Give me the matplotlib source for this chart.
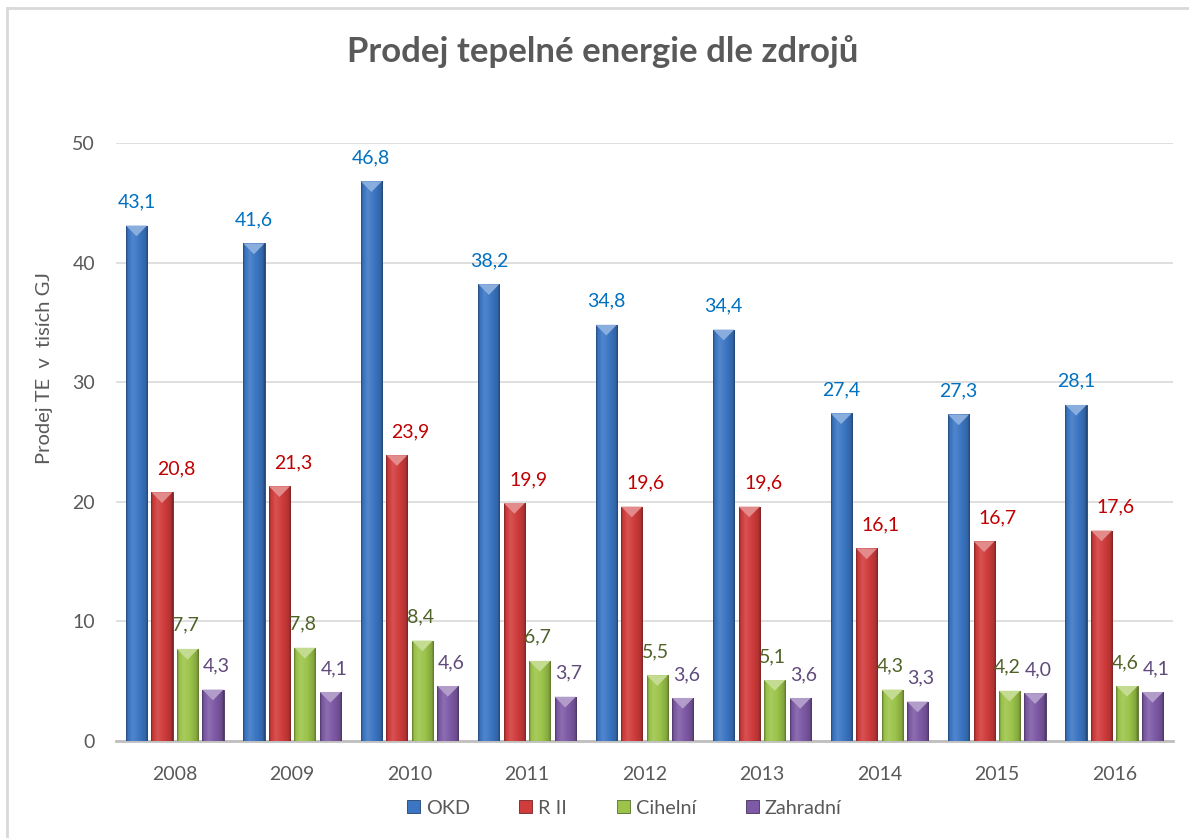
import numpy as np
import matplotlib
matplotlib.use("Agg")
import matplotlib.pyplot as plt
from matplotlib.lines import Line2D
from matplotlib.patches import Polygon, Patch
from matplotlib.colors import to_rgb

plt.rcParams['font.family'] = ['Lato', 'DejaVu Sans']

years = ['2008', '2009', '2010', '2011', '2012', '2013', '2014', '2015', '2016']
series_names = ['OKD', 'R II', 'Cihelní', 'Zahradní']
okd = [43.1, 41.6, 46.8, 38.2, 34.8, 34.4, 27.4, 27.3, 28.1]
r2 = [20.8, 21.3, 23.9, 19.9, 19.6, 19.6, 16.1, 16.7, 17.6]
cihelni = [7.7, 7.8, 8.4, 6.7, 5.5, 5.1, 4.3, 4.2, 4.6]
zahradni = [4.3, 4.1, 4.6, 3.7, 3.6, 3.6, 3.3, 4.0, 4.1]

bar_colors = ['#3B76C4', '#D03C3C', '#9CC44A', '#7E5AA6']
label_colors = ['#0070C0', '#C00000', '#4F6228', '#604A7B']
label_dx = [0, 10, -1.5, 2.5]  # points

W, H = 1189, 838
fig = plt.figure(figsize=(W / 100, H / 100), dpi=100)
ax = fig.add_axes([116 / W, (H - 741) / H, (1173 - 116) / W, (741 - 143) / H])

x = np.arange(len(years))
step = 0.217
width = 0.18
data = [okd, r2, cihelni, zahradni]


def shade(c, f):
    r, g, b = to_rgb(c)
    if f < 1:
        return (r * f, g * f, b * f)
    return tuple(min(1, v + (1 - v) * (f - 1)) for v in (r, g, b))


for i, vals in enumerate(data):
    base = bar_colors[i]
    bars = ax.bar(x + (i - 1.5) * step, vals, width, color=base,
                  edgecolor=shade(base, 0.55), linewidth=0.6, zorder=3)
    # horizontal gradient for bevel look
    n = 64
    t = np.linspace(0, 1, n)
    prof = np.interp(t, [0, 0.08, 0.3, 0.6, 0.9, 1.0],
                     [0.62, 0.95, 1.12, 1.0, 0.85, 0.6])
    grad = np.array([shade(base, f) for f in prof])[None, :, :]
    for b, v in zip(bars, vals):
        x0, w0, h0 = b.get_x(), b.get_width(), b.get_height()
        im = ax.imshow(grad, extent=[x0, x0 + w0, 0, h0], aspect='auto',
                       zorder=3.5, interpolation='bilinear')
        im.set_clip_path(b)
        # top bevel triangle
        tri_h = 0.9
        tri = Polygon([[x0, h0], [x0 + w0, h0], [x0 + w0 * 0.5, h0 - tri_h]],
                      closed=True, facecolor=shade(base, 1.4),
                      edgecolor='none', zorder=4)
        ax.add_patch(tri)
        ax.annotate(f'{v:.1f}'.replace('.', ','),
                    xy=(x0 + w0 / 2, h0), xytext=(label_dx[i], 13),
                    textcoords='offset points', ha='center', va='baseline',
                    fontsize=14, color=label_colors[i], zorder=6)

ax.set_xlim(-0.5, len(years) - 0.5)
ax.set_ylim(0, 50)
ax.set_yticks(np.arange(0, 51, 10))
ax.set_xticks(x)
ax.set_xticklabels(years)
ax.tick_params(axis='both', length=0, labelsize=14, labelcolor='#595959')
ax.tick_params(axis='y', pad=15)
ax.tick_params(axis='x', pad=18)
ax.grid(axis='y', color='#D9D9D9', linewidth=1.2, zorder=0)
ax.set_axisbelow(True)
for s in ['top', 'right', 'left']:
    ax.spines[s].set_visible(False)
ax.spines['bottom'].set_color('#BFBFBF')
ax.spines['bottom'].set_linewidth(2)
ax.spines['bottom'].set_zorder(2)

fig.text(45 / W, 1 - 368 / H, 'Prodej TE  v  tisích GJ', rotation=90,
         ha='center', va='center', fontsize=14.5, color='#595959')
fig.text(603 / W, 1 - 52 / H, 'Prodej tepelné energie dle zdrojů',
         ha='center', va='center', fontsize=25, fontweight='bold',
         color='#595959')

handles = [Patch(facecolor=c, edgecolor=shade(c, 0.55), linewidth=0.6)
           for c in bar_colors]
fig.legend(handles, series_names, loc='center', ncol=4,
           bbox_to_anchor=(624 / W, 1 - 808 / H), frameon=False,
           fontsize=14.3, labelcolor='#595959', handlelength=0.65,
           handleheight=0.65, handletextpad=0.3, columnspacing=2.5)

# chart area border (top and left visible)
fig.add_artist(Line2D([7 / W, 1], [1 - 8 / H, 1 - 8 / H], color='#D9D9D9',
                      linewidth=2, transform=fig.transFigure))
fig.add_artist(Line2D([7 / W, 7 / W], [0, 1 - 8 / H], color='#D9D9D9',
                      linewidth=2, transform=fig.transFigure))

fig.savefig('out.png', dpi=100, facecolor='white')
